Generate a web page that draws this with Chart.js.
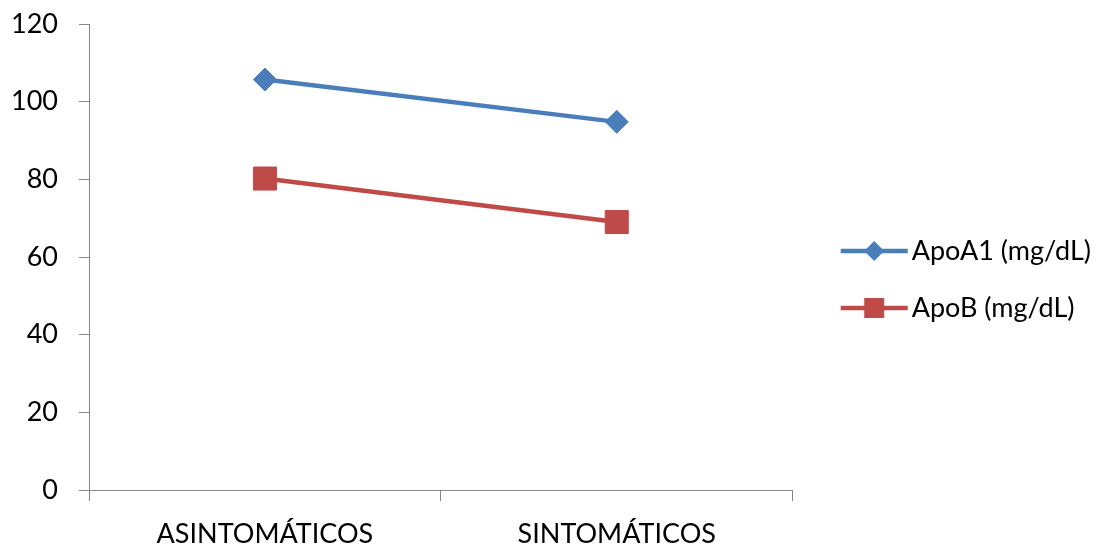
<!DOCTYPE html>
<html>
<head>
<meta charset="utf-8">
<script src="https://cdn.jsdelivr.net/npm/chart.js@4"></script>
<style>
  html, body { margin: 0; padding: 0; background: #fff; }
</style>
</head>
<body>
<canvas id="myChart" width="1114" height="544"></canvas>
<script>
const categories = ['ASINTOMÁTICOS', 'SINTOMÁTICOS'];
const apoA1 = [105.7, 94.8];
const apoB = [80.2, 69.0];
const yTicks = [0, 20, 40, 60, 80, 100, 120];

const blue = '#4a7ebb';
const red = '#be4b48';
const axisGrey = '#868686';
const fontSize = 27;
const legendPad = 30;
const legendBox = 75.5;

Chart.defaults.font.family = 'Lato, "Open Sans", sans-serif';
Chart.defaults.font.size = fontSize;
Chart.defaults.color = '#000';

// legend icon: line with a marker, wider than its box so the line can run close to the text
function makeIcon(color, shape) {
    const c = document.createElement('canvas');
    c.width = 95;
    c.height = 30;
    const g = c.getContext('2d');
    const cy = 15;
    g.strokeStyle = color;
    g.lineWidth = 4.5;
    g.beginPath();
    g.moveTo(27.75, cy);
    g.lineTo(94.75, cy);
    g.stroke();
    g.fillStyle = color;
    const cx = 61.25;
    if (shape === 'diamond') {
        g.beginPath();
        g.moveTo(cx, cy - 10);
        g.lineTo(cx + 10, cy);
        g.lineTo(cx, cy + 10);
        g.lineTo(cx - 10, cy);
        g.closePath();
        g.fill();
    } else {
        g.fillRect(cx - 10, cy - 10, 20, 20);
    }
    return c;
}
const legendIcons = [makeIcon(blue, 'diamond'), makeIcon(red, 'square')];

const ctx = document.getElementById('myChart').getContext('2d');
const myChart = new Chart(ctx, {
    type: 'line',
    data: {
        labels: categories,
        datasets: [{
            label: 'ApoA1 (mg/dL)',
            data: apoA1,
            borderColor: blue,
            backgroundColor: blue,
            borderWidth: 4.5,
            pointStyle: 'rectRot',
            pointRadius: 11.5,
            pointHoverRadius: 11.5,
            pointBorderWidth: 1
        }, {
            label: 'ApoB (mg/dL)',
            data: apoB,
            borderColor: red,
            backgroundColor: red,
            borderWidth: 4.5,
            pointStyle: 'rect',
            pointRadius: 16.3,
            pointHoverRadius: 16.3,
            pointBorderWidth: 1
        }]
    },
    options: {
        responsive: false,
        animation: false,
        layout: {
            padding: { top: 15, left: 0, right: 13, bottom: 0 }
        },
        scales: {
            x: {
                offset: true,
                grid: {
                    offset: true,
                    drawOnChartArea: false,
                    drawTicks: true,
                    tickLength: 11,
                    color: axisGrey
                },
                border: { color: axisGrey, width: 1 },
                ticks: { padding: 17, maxRotation: 0 },
                afterFit: (scale) => { scale.height = 54; }
            },
            y: {
                min: 0,
                max: 120,
                afterBuildTicks: (scale) => { scale.ticks = yTicks.map(v => ({ value: v })); },
                grid: {
                    drawOnChartArea: false,
                    drawTicks: true,
                    tickLength: 10,
                    color: axisGrey
                },
                border: { color: axisGrey, width: 1 },
                ticks: { padding: 21 },
                afterFit: (scale) => {
                    scale.width = 89;
                    scale.paddingTop = 24;
                    scale.paddingBottom = 0;
                }
            }
        },
        plugins: {
            tooltip: { enabled: false },
            legend: {
                position: 'right',
                maxWidth: 400,
                labels: {
                    usePointStyle: true,
                    pointStyleWidth: legendBox,
                    padding: legendPad,
                    color: '#000',
                    generateLabels(chart) {
                        const items = Chart.defaults.plugins.legend.labels.generateLabels(chart);
                        items.forEach((it, i) => { it.pointStyle = legendIcons[i]; });
                        return items;
                    }
                }
            }
        }
    }
});
</script>
</body>
</html>
